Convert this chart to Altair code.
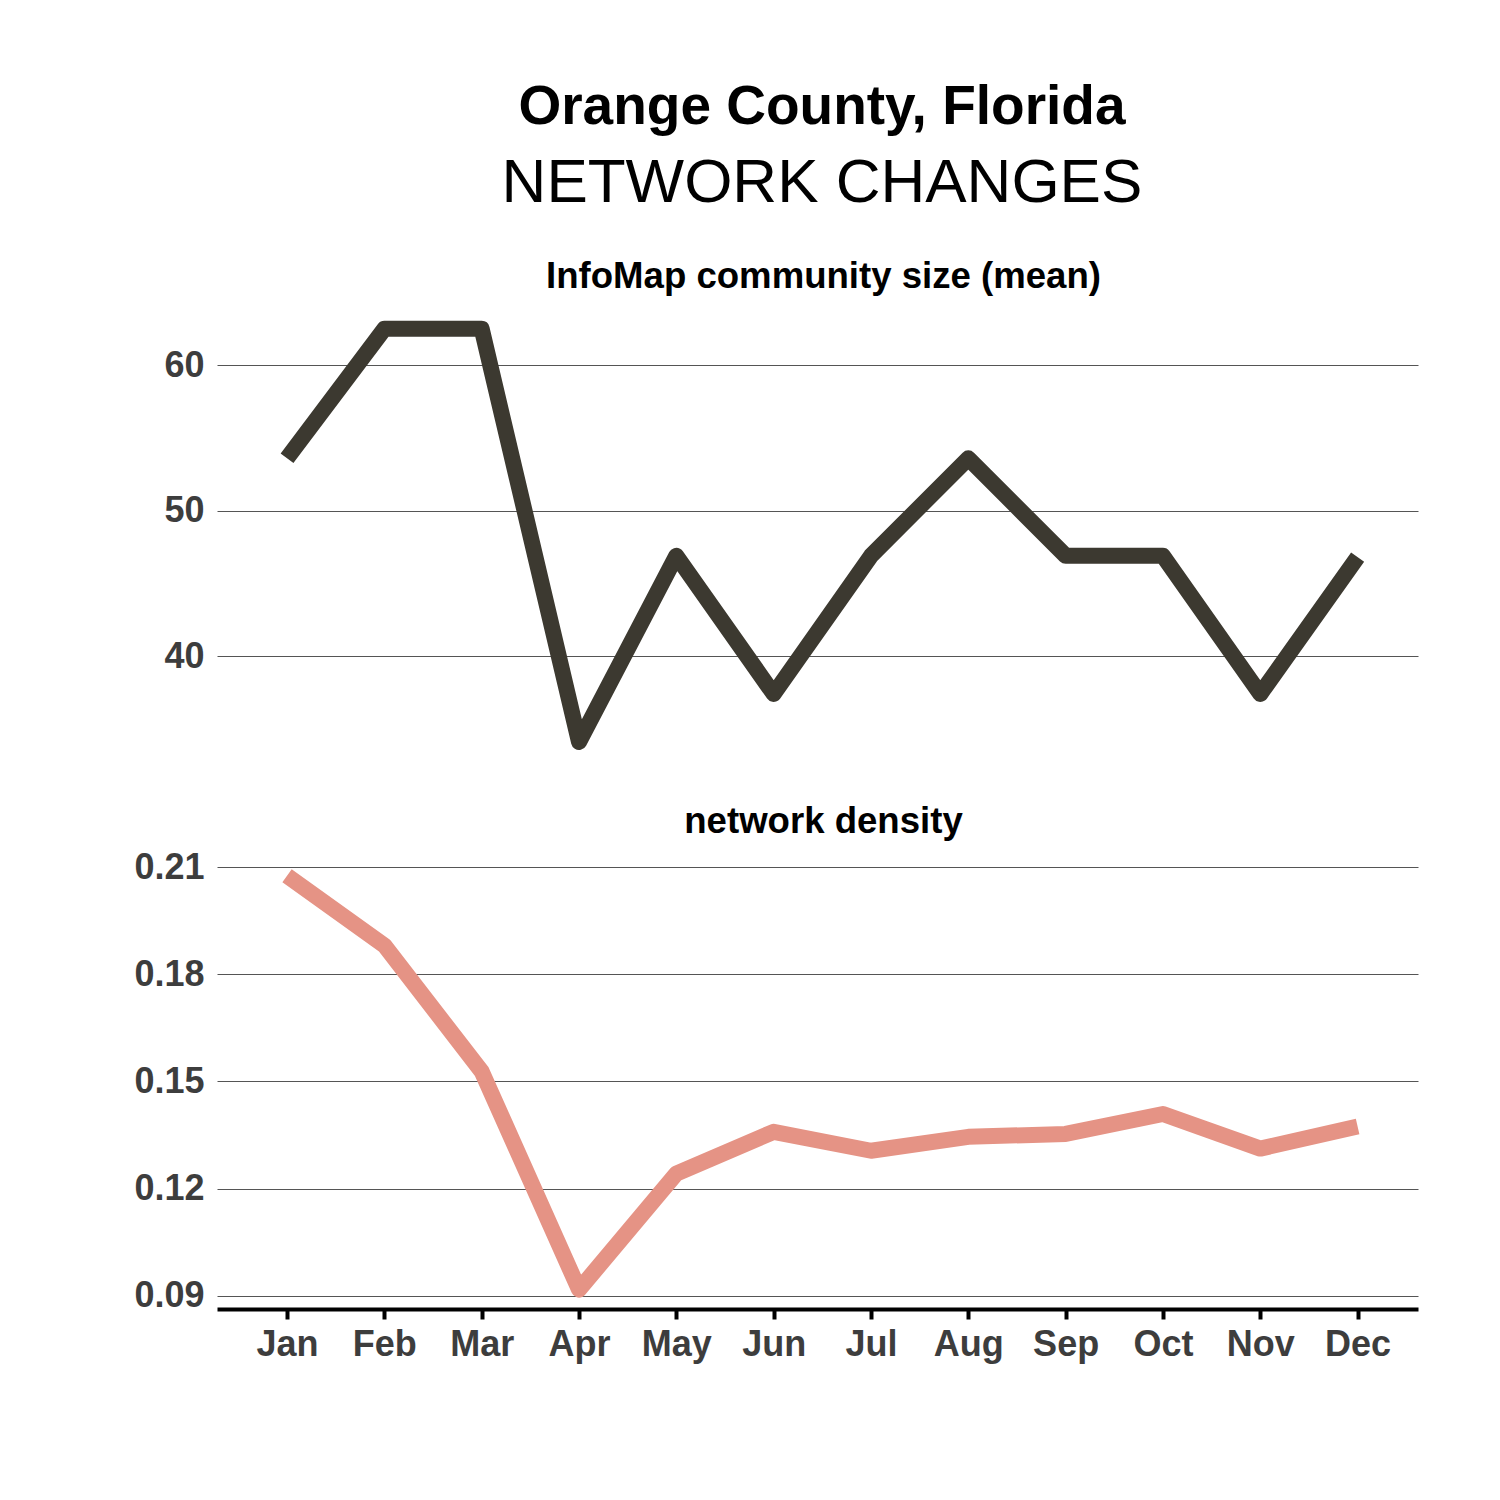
import altair as alt
import pandas as pd

months = ["Jan", "Feb", "Mar", "Apr", "May", "Jun", "Jul", "Aug", "Sep", "Oct", "Nov", "Dec"]
community_size = [53.6, 62.5, 62.5, 34.1, 46.9, 37.4, 46.9, 53.6, 46.9, 46.9, 37.4, 46.8]
density = [0.2076, 0.1881, 0.1528, 0.0917, 0.1242, 0.1359, 0.1306, 0.1345, 0.1353, 0.1409, 0.1312, 0.1374]
size_ticks = [40, 50, 60]
density_ticks = [0.09, 0.12, 0.15, 0.18, 0.21]

df = pd.DataFrame({"month": months, "size": community_size, "density": density})

FONT = "Liberation Sans"
LABEL_COLOR = "#3d3d3d"
GRID_COLOR = "#555555"

x_scale = alt.Scale(type="point", domain=months, padding=0.67, align=0.537)

y_axis_common = dict(
    title=None, domain=False, ticks=False, grid=True,
    gridColor=GRID_COLOR, gridWidth=1,
    labelFont=FONT, labelFontSize=36, labelFontWeight="bold",
    labelColor=LABEL_COLOR, labelPadding=13,
)


def panel_title(text, offset):
    return alt.TitleParams(
        text=text, font=FONT, fontSize=36.6, fontWeight="bold",
        color="black", anchor="middle", offset=offset, dx=6,
    )


top = alt.Chart(df, title=panel_title("InfoMap community size (mean)", 11)).mark_line(
    color="#3c3930", strokeWidth=16, strokeJoin="round", strokeCap="butt"
).encode(
    x=alt.X("month:N", sort=months, scale=x_scale, axis=None),
    y=alt.Y("size:Q",
            scale=alt.Scale(domain=[33, 64], nice=False, zero=False),
            axis=alt.Axis(values=size_ticks, **y_axis_common)),
).properties(width=1201, height=451)

bottom = alt.Chart(df, title=panel_title("network density", 9)).mark_line(
    color="#e59385", strokeWidth=16, strokeJoin="round", strokeCap="butt"
).encode(
    x=alt.X("month:N", sort=months, scale=x_scale,
            axis=alt.Axis(title=None, labelAngle=0, grid=False,
                          domainColor="black", domainWidth=4,
                          tickColor="black", tickWidth=4, tickSize=10,
                          labelPadding=8, labelFont=FONT, labelFontSize=36,
                          labelFontWeight="bold", labelColor=LABEL_COLOR)),
    y=alt.Y("density:Q",
            scale=alt.Scale(domain=[0.08627, 0.214], nice=False, zero=False),
            axis=alt.Axis(values=density_ticks, format=".2f", **y_axis_common)),
).properties(width=1201, height=456)

chart = alt.vconcat(top, bottom, spacing=45).properties(
    title=alt.TitleParams(
        text="Orange County, Florida",
        subtitle="NETWORK CHANGES",
        font=FONT, fontSize=55, fontWeight="bold", color="black",
        subtitleFont=FONT, subtitleFontSize=62, subtitleFontWeight="normal",
        subtitleColor="black", subtitlePadding=17,
        anchor="middle", offset=44, dx=46,
    ),
    padding={"left": 125, "top": 72, "right": 10, "bottom": 40},
).configure_view(stroke=None)

chart.save("out.html", embed_options={"renderer": "svg", "actions": False})
